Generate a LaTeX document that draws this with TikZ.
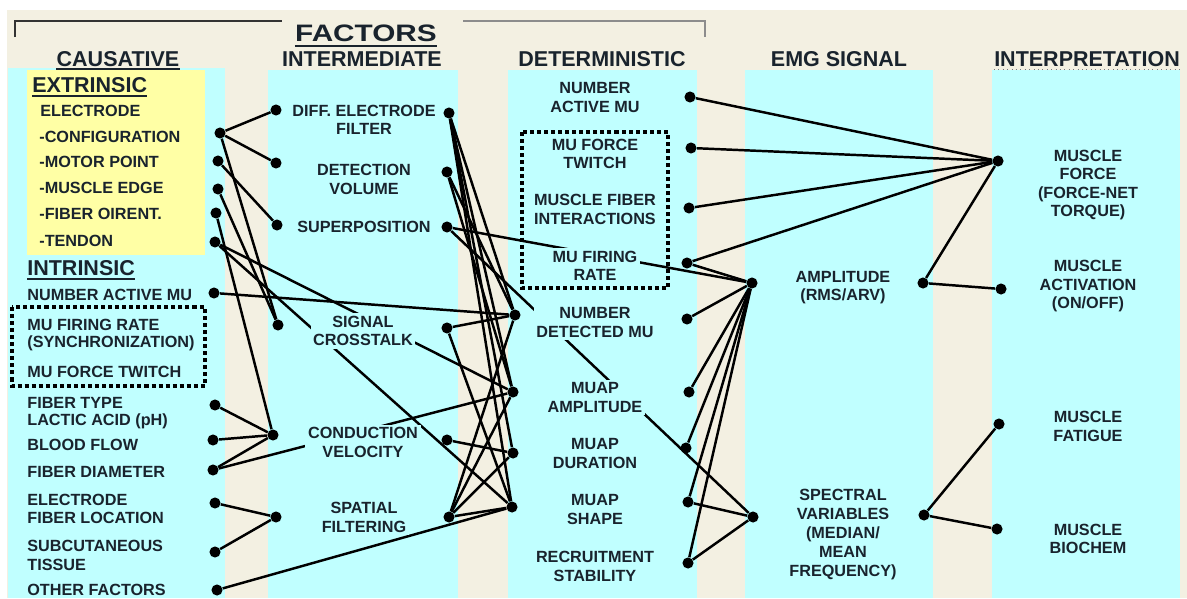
\documentclass[tikz,border=0pt]{standalone}
\usepackage{fontspec}
\usepackage{graphicx}
\setmainfont{Liberation Sans}
\definecolor{bg}{RGB}{243,240,226}
\definecolor{cy}{RGB}{192,255,255}
\definecolor{yl}{RGB}{255,255,165}
\definecolor{txt}{RGB}{25,35,45}
\tikzset{
 jdot/.style={circle,fill=black,inner sep=0pt,minimum size=6.3pt},
 ln/.style={line width=1.4pt,black},
 lab/.style={font=\bfseries\fontsize{9.2}{10.5}\selectfont,text=txt,align=center,fill=cy,inner sep=1.5pt},
 llab/.style={font=\bfseries\fontsize{9.2}{10.5}\selectfont,text=txt,anchor=west,inner sep=0pt},
 hdr/.style={font=\bfseries\fontsize{12.2}{14}\selectfont,text=txt,inner sep=0pt},
 ulin/.style={line width=1pt,txt},
 dbox/.style={line width=2.2pt,dash pattern=on 2.3pt off 1.7pt,black},
}
\begin{document}
\begin{tikzpicture}[x=0.5675pt,y=-0.5675pt]
\useasboundingbox (0,0) rectangle (1187,598);
% backgrounds
\fill[white] (0,0) rectangle (1187,598);
\fill[bg] (7,10) rectangle (1187,598);
\fill[cy] (8,68) rectangle (225,598);
\fill[cy] (268,70) rectangle (458,598);
\fill[cy] (508,70) rectangle (697,598);
\fill[cy] (745,70) rectangle (933,598);
\fill[cy] (992,70) rectangle (1180,598);
\fill[yl] (27,70) rectangle (205,255);
% bracket
\draw[line width=1.4pt,black!80] (15,37) -- (15,21) -- (282,21);
\draw[line width=1.4pt,black!45] (463,21) -- (705,21) -- (705,37);
% headers
\node[font=\bfseries\fontsize{13.5}{15}\selectfont,text=txt,inner sep=0pt] (fac) at (366,33) {\scalebox{1.25}[1]{FACTORS}};
\draw[line width=1.1pt,txt] ([yshift=-2.3pt]fac.south west) -- ([yshift=-2.3pt]fac.south east);
\node[hdr] (h1) at (118,59) {CAUSATIVE};
\draw[ulin] ([yshift=-1pt]h1.south west) -- ([yshift=-1pt]h1.south east);
\node[hdr] (h2) at (362,59) {INTERMEDIATE};
\node[hdr] (h3) at (602,59) {DETERMINISTIC};
\node[hdr] (h4) at (839,59) {EMG SIGNAL};
\node[hdr] (h5) at (1087,59) {INTERPRETATION};
\draw[line width=0.5pt,txt!60,dotted] ([yshift=-1.2pt]h5.south west) -- ([yshift=-1.2pt]h5.south east);

% column 1 labels
\node[hdr,anchor=west] (ext) at (32,85) {EXTRINSIC};
\draw[ulin] ([yshift=-1.6pt]ext.south west) -- ([yshift=-1.6pt]ext.south east);
\node[llab] (t1) at (40,111) {ELECTRODE};
\node[llab] (t2) at (39,137) {-CONFIGURATION};
\node[llab] (t3) at (39,162) {-MOTOR POINT};
\node[llab] (t4) at (39,188) {-MUSCLE EDGE};
\node[llab] (t5) at (39,214) {-FIBER OIRENT.};
\node[llab] (t6) at (39,241) {-TENDON};
\node[hdr,anchor=west] (intr) at (27,268) {INTRINSIC};
\draw[ulin] ([yshift=-1.6pt]intr.south west) -- ([yshift=-1.6pt]intr.south east);
\node[llab] (t7) at (27,295) {NUMBER ACTIVE MU};
\node[llab] (t8) at (27,325) {MU FIRING RATE};
\node[llab] (t9) at (27,343) {(SYNCHRONIZATION)};
\node[llab] (t10) at (27,372) {MU FORCE TWITCH};
\node[llab] (t11) at (27,403) {FIBER TYPE};
\node[llab] (t12) at (27,421) {LACTIC ACID (pH)};
\node[llab] (t13) at (27,445) {BLOOD FLOW};
\node[llab] (t14) at (27,472) {FIBER DIAMETER};
\node[llab] (t15) at (27,500) {ELECTRODE};
\node[llab] (t16) at (27,518) {FIBER LOCATION};
\node[llab] (t17) at (27,546) {SUBCUTANEOUS};
\node[llab] (t18) at (27,565) {TISSUE};
\node[llab] (t19) at (27,590) {OTHER FACTORS};

% dots column 1
\node[jdot] (conf) at (220,133) {};
\node[jdot] (motor) at (218,161) {};
\node[jdot] (edge) at (218,189) {};
\node[jdot] (fibor) at (216,213) {};
\node[jdot] (tend) at (215,242) {};
\node[jdot] (nam) at (214,293) {};
\node[jdot] (ftype) at (215,405) {};
\node[jdot] (blood) at (213,440) {};
\node[jdot] (fdiam) at (213,470) {};
\node[jdot] (eloc) at (215,503) {};
\node[jdot] (subc) at (215,552) {};
\node[jdot] (other) at (217,590) {};
% intermediate dots
\node[jdot] (diffL) at (276,110) {};
\node[jdot] (detL) at (276,163) {};
\node[jdot] (supL) at (277,225) {};
\node[jdot] (sigL) at (278,325) {};
\node[jdot] (condL) at (273,435) {};
\node[jdot] (spatL) at (276,517) {};
\node[jdot] (diffR) at (449,113) {};
\node[jdot] (detR) at (447,172) {};
\node[jdot] (supR) at (447,227) {};
\node[jdot] (sigR) at (447,328) {};
\node[jdot] (condR) at (447,440) {};
\node[jdot] (spatR) at (449,517) {};
% deterministic dots
\node[jdot] (ndetL) at (515,315) {};
\node[jdot] (ampL) at (513,392) {};
\node[jdot] (durL) at (513,453) {};
\node[jdot] (shapeL) at (512,507) {};
\node[jdot] (nactR) at (690,97) {};
\node[jdot] (twR) at (691,148) {};
\node[jdot] (fibR) at (689,208) {};
\node[jdot] (firR) at (687,263) {};
\node[jdot] (ndetR) at (687,319) {};
\node[jdot] (ampR) at (689,392) {};
\node[jdot] (durR) at (686,448) {};
\node[jdot] (shapeR) at (688,502) {};
\node[jdot] (recR) at (688,563) {};
% EMG dots
\node[jdot] (ampEL) at (752,283) {};
\node[jdot] (specEL) at (753,517) {};
\node[jdot] (ampER) at (923,283) {};
\node[jdot] (specER) at (924,515) {};
% interpretation dots
\node[jdot] (forceD) at (998,161) {};
\node[jdot] (actD) at (1001,289) {};
\node[jdot] (fatD) at (999,424) {};
\node[jdot] (bioD) at (997,529) {};

% connectors column 1 -> intermediate
\draw[ln] (conf) -- (diffL);
\draw[ln] (conf) -- (detL);
\draw[ln] (conf) -- (sigL);
\draw[ln] (motor) -- (supL);
\draw[ln] (edge) -- (sigL);
\draw[ln] (fibor) -- (condL);
\draw[ln] (ftype) -- (condL);
\draw[ln] (blood) -- (condL);
\draw[ln] (fdiam) -- (condL);
\draw[ln] (eloc) -- (spatL);
\draw[ln] (subc) -- (spatL);
% column 1 -> deterministic
\draw[ln] (nam) -- (ndetL);
\draw[ln] (tend) -- (ampL);
\draw[ln] (tend) -- (shapeL);
\draw[ln] (fdiam) -- (ampL);
\draw[ln] (other) -- (shapeL);
% intermediate -> deterministic
\draw[ln] (diffR) -- (ndetL);
\draw[ln] (diffR) -- (ampL);
\draw[ln] (diffR) -- (durL);
\draw[ln] (diffR) -- (shapeL);
\draw[ln] (detR) -- (ndetL);
\draw[ln] (detR) -- (ampL);
\draw[ln] (sigR) -- (ndetL);
\draw[ln] (sigR) -- (shapeL);
\draw[ln] (condR) -- (durL);
\draw[ln] (spatR) -- (ndetL);
\draw[ln] (spatR) -- (ampL);
\draw[ln] (spatR) -- (durL);
\draw[ln] (spatR) -- (shapeL);
% intermediate -> EMG
\draw[ln] (supR) -- (ampEL);
\draw[ln] (supR) -- (specEL);
% deterministic -> EMG / interpretation
\draw[ln] (nactR) -- (forceD);
\draw[ln] (twR) -- (forceD);
\draw[ln] (fibR) -- (forceD);
\draw[ln] (firR) -- (forceD);
\draw[ln] (firR) -- (ampEL);
\draw[ln] (ndetR) -- (ampEL);
\draw[ln] (ampR) -- (ampEL);
\draw[ln] (durR) -- (ampEL);
\draw[ln] (shapeR) -- (ampEL);
\draw[ln] (recR) -- (ampEL);
\draw[ln] (shapeR) -- (specEL);
\draw[ln] (recR) -- (specEL);
% EMG -> interpretation
\draw[ln] (ampER) -- (forceD);
\draw[ln] (ampER) -- (actD);
\draw[ln] (specER) -- (fatD);
\draw[ln] (specER) -- (bioD);

% intermediate labels
\node[lab] (l1) at (364,120) {DIFF. ELECTRODE\\FILTER};
\node[lab] (l2) at (364,179.5) {DETECTION\\VOLUME};
\node[lab] (l3) at (364,227) {SUPERPOSITION};
\node[lab] (l4) at (363,331) {SIGNAL\\CROSSTALK};
\node[lab] (l5) at (363,442.5) {CONDUCTION\\VELOCITY};
\node[lab] (l6) at (364,517.5) {SPATIAL\\FILTERING};
% deterministic labels
\node[lab] (d1) at (595,97.5) {NUMBER\\ACTIVE MU};
\node[lab] (d2) at (595,154) {MU FORCE\\TWITCH};
\node[lab] (d3) at (595,209.5) {MUSCLE FIBER\\INTERACTIONS};
\node[lab] (d4) at (595,266) {MU FIRING\\RATE};
\node[lab] (d5) at (595,322.5) {NUMBER\\DETECTED MU};
\node[lab] (d6) at (595,397.5) {MUAP\\AMPLITUDE};
\node[lab] (d7) at (595,453.5) {MUAP\\DURATION};
\node[lab] (d8) at (595,509.5) {MUAP\\SHAPE};
\node[lab] (d9) at (595,566.5) {RECRUITMENT\\STABILITY};
% EMG labels
\node[lab] (e1) at (843,287.5) {AMPLITUDE\\(RMS/ARV)};
\node[lab,font=\bfseries\fontsize{9.2}{10.65}\selectfont] (e2) at (843,534.5) {SPECTRAL\\VARIABLES\\(MEDIAN/\\MEAN\\FREQUENCY)};
% interpretation labels
\node[lab] (i1) at (1088,185) {MUSCLE\\FORCE\\(FORCE-NET\\TORQUE)};
\node[lab] (i2) at (1088,286.5) {MUSCLE\\ACTIVATION\\(ON/OFF)};
\node[lab] (i3) at (1088,426.5) {MUSCLE\\FATIGUE};
\node[lab] (i4) at (1088,539) {MUSCLE\\BIOCHEM};

% dashed boxes
\draw[dbox] (12,307) rectangle (205,386);
\draw[dbox] (522,132) rectangle (668,288);
\end{tikzpicture}
\end{document}
